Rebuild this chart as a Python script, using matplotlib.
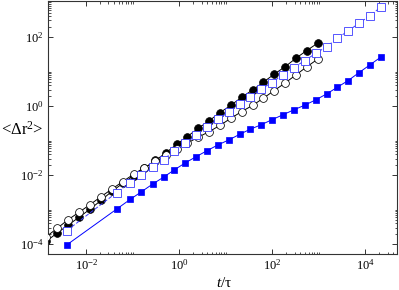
import numpy as np
import matplotlib
matplotlib.use("Agg")
import matplotlib.pyplot as plt
from matplotlib.ticker import FixedLocator, LogFormatterSciNotation, NullFormatter

plt.rcParams['font.family'] = ['Liberation Serif', 'DejaVu Serif']
plt.rcParams['mathtext.fontset'] = 'custom'
plt.rcParams['mathtext.rm'] = 'Liberation Serif'
plt.rcParams['mathtext.it'] = 'Liberation Serif:italic'

# time grid of the circle series (first point lies just left of the axis)
t_circ = [1.37e-3, 2.34e-3, 3.95e-3, 7.04e-3, 0.0121, 0.0209, 0.0355, 0.0611, 0.105,
          0.178, 0.307, 0.520, 0.883, 1.49, 2.57, 4.43, 7.52, 12.97, 22.0, 37.9,
          64.1, 110, 190, 323, 548, 945]
msd_black_filled = [1.21e-4, 2.09e-4, 3.48e-4, 6.09e-4, 1.04e-3, 1.87e-3, 3.40e-3, 5.79e-3,
                    9.73e-3, 0.0160, 0.0265, 0.0451, 0.0779, 0.131, 0.229, 0.380, 0.648,
                    1.06, 1.81, 2.94, 4.92, 8.38, 13.9, 24.3, 40.4, 66.2]
msd_black_open = [1.64e-4, 2.85e-4, 4.99e-4, 8.49e-4, 1.41e-3, 2.40e-3, 3.94e-3, 6.53e-3,
                  0.0107, 0.0166, 0.0248, 0.0374, 0.0558, 0.0844, 0.126, 0.183, 0.276,
                  0.447, 0.693, 1.05, 1.69, 2.81, 4.69, 8.0, 13.6, 22.8]

# time grid of the square series
t_sq = [3.83e-3, 0.045, 0.0886, 0.153, 0.266, 0.460, 0.781, 1.35, 2.33, 4.0, 6.82,
        11.7, 19.9, 33.2, 57.2, 97.1, 168, 290, 499, 856, 1480, 2520, 4270, 7360,
        12600, 21400]
msd_blue_open = [2.49e-4, 3.13e-3, 6.11e-3, 9.87e-3, 0.0168, 0.0283, 0.0505, 0.0832,
                 0.147, 0.255, 0.418, 0.693, 1.16, 1.88, 3.08, 4.79, 8.0, 13.0, 20.7,
                 33.5, 52.7, 92.3, 150, 251, 416, 729]
msd_blue_filled = [9.61e-5, 1.04e-3, 2.0e-3, 3.29e-3, 5.49e-3, 8.75e-3, 0.0142, 0.0227,
                   0.0345, 0.0515, 0.0753, 0.105, 0.152, 0.212, 0.286, 0.399, 0.556,
                   0.776, 1.06, 1.51, 2.25, 3.52, 5.47, 9.33, 15.6, 26.0]

fig = plt.figure(figsize=(3.99, 2.90), dpi=100)
ax = fig.add_axes([48 / 399, 1 - 254 / 290, 349 / 399, 253 / 290])

ax.plot(t_circ, msd_black_filled, '-o', color='black', lw=0.7, ms=5.6,
        mfc='black', mec='black', mew=0.5, zorder=2)
ax.plot(t_circ, msd_black_open, '-o', color='black', lw=0.7, ms=5.6,
        mfc='white', mec='black', mew=0.55, zorder=3)
ax.plot(t_sq, msd_blue_open, '--s', color='#3a3aff', lw=0.7, ms=5.1,
        mfc='white', mec='#3a3aff', mew=0.6, dashes=(4, 2), zorder=4)
ax.plot(t_sq, msd_blue_filled, '-s', color='blue', lw=0.7, ms=4.7,
        mfc='blue', mec='blue', mew=0.5, zorder=5)

ax.set_xscale('log')
ax.set_yscale('log')
ax.set_xlim(1.5e-3, 4.8e4)
ax.set_ylim(5.2e-5, 1.1e3)

ax.xaxis.set_major_locator(FixedLocator([1e-2, 1e0, 1e2, 1e4]))
ax.yaxis.set_major_locator(FixedLocator([1e-4, 1e-2, 1e0, 1e2]))
minor_x = [k * 10.0 ** e for e in (-4, -2, 0, 2, 4) for k in range(2, 11)]
ax.xaxis.set_minor_locator(FixedLocator(minor_x))
ax.yaxis.set_minor_locator(FixedLocator(minor_x))
ax.xaxis.set_major_formatter(LogFormatterSciNotation())
ax.yaxis.set_major_formatter(LogFormatterSciNotation())
ax.xaxis.set_minor_formatter(NullFormatter())
ax.yaxis.set_minor_formatter(NullFormatter())

spine_col = '#333333'
for s in ax.spines.values():
    s.set_color(spine_col)
    s.set_linewidth(0.8)
ax.tick_params(which='both', direction='in', top=True, right=True,
               color=spine_col, labelsize=9)
ax.tick_params(which='major', length=3.3, width=0.7, pad=3)
ax.tick_params(which='minor', length=1.8, width=0.6)

ax.set_xlabel(r'$\mathit{t}$/τ', fontsize=11)
ax.xaxis.set_label_coords(0.504, -0.115)
ax.xaxis.label.set_va('center')
ax.set_ylabel(r'<$\mathregular{\Delta r^{2}}$>', fontsize=12, rotation=0,
              ha='center', va='center')
ax.yaxis.set_label_coords(-0.075, 0.49)

fig.savefig('out.png', dpi=100)
